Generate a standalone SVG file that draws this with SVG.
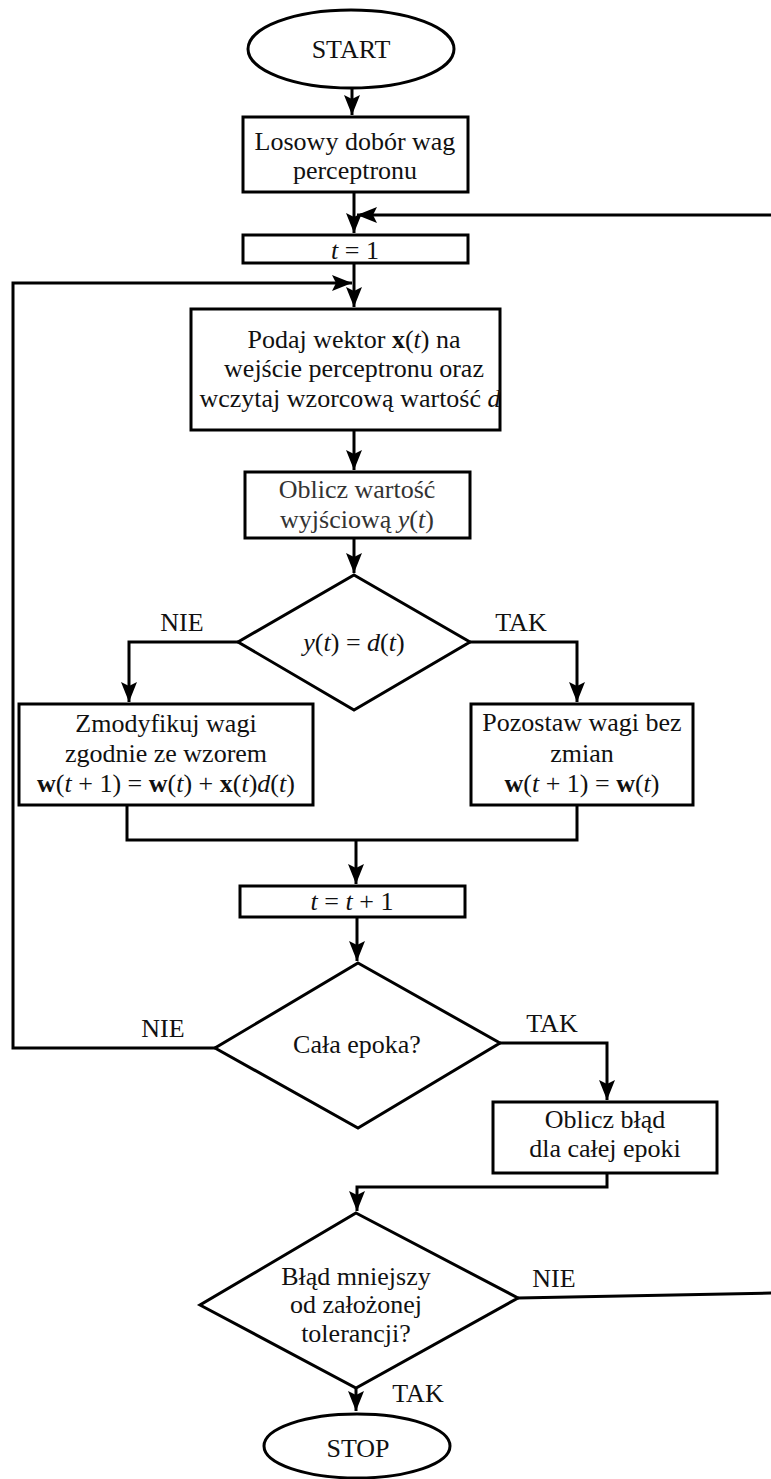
<svg xmlns="http://www.w3.org/2000/svg" width="771" height="1479" viewBox="0 0 771 1479">
<style>
.n{fill:#fff;stroke:#000;stroke-width:3}
.c{fill:none;stroke:#000;stroke-width:3}
text{font-family:"Liberation Serif","Times New Roman",serif;font-size:26px;fill:#111;text-anchor:middle}
.g{fill:#333}
.i{font-style:italic}
.b{font-weight:bold}
</style>
<defs>
<marker id="ah" markerUnits="userSpaceOnUse" markerWidth="22" markerHeight="18" refX="20" refY="8" orient="auto">
<path d="M0,0 L20,8 L0,16 L4,8 z" fill="#000"/>
</marker>
</defs>
<rect width="771" height="1479" fill="#fff"/>
<g id="connectors">
<path class="c" d="M352,88 V115" marker-end="url(#ah)"/>
<path class="c" d="M354,192 V233" marker-end="url(#ah)"/>
<path class="c" d="M771,215 H357" marker-end="url(#ah)"/>
<path class="c" d="M354,263 V307" marker-end="url(#ah)"/>
<path class="c" d="M215,1048 H13 V283 H352" marker-end="url(#ah)"/>
<path class="c" d="M354,430 V470" marker-end="url(#ah)"/>
<path class="c" d="M354,538 V573" marker-end="url(#ah)"/>
<path class="c" d="M238,642 H129 V702" marker-end="url(#ah)"/>
<path class="c" d="M470,642 H577 V702" marker-end="url(#ah)"/>
<path class="c" d="M127,805 V840 H577 V805"/>
<path class="c" d="M356,840 V884" marker-end="url(#ah)"/>
<path class="c" d="M357,917 V961" marker-end="url(#ah)"/>
<path class="c" d="M500,1043 H607 V1100" marker-end="url(#ah)"/>
<path class="c" d="M607,1173 V1187 H357 V1211" marker-end="url(#ah)"/>
<path class="c" d="M518,1298 L771,1293"/>
<path class="c" d="M356,1388 V1411" marker-end="url(#ah)"/>
<text x="182" y="631">NIE</text>
<text x="521" y="631">TAK</text>
<text x="163" y="1037">NIE</text>
<text x="552" y="1032">TAK</text>
<text x="554" y="1287">NIE</text>
<text x="418" y="1402">TAK</text>
</g>
<g id="start">
<ellipse class="n" cx="351" cy="49" rx="103" ry="39"/>
<text x="351" y="58">START</text>
</g>
<g id="init">
<rect class="n" x="243" y="117" width="225" height="75"/>
<text x="355" y="150">Losowy dobór wag</text>
<text x="355" y="179">perceptronu</text>
</g>
<g id="t1">
<rect class="n" x="243" y="235" width="225" height="28"/>
<text x="355" y="259"><tspan class="i">t</tspan> = 1</text>
</g>
<g id="input">
<rect class="n" x="191" y="309" width="309" height="121"/>
<text x="354" y="348">Podaj wektor <tspan class="b">x</tspan>(<tspan class="i">t</tspan>) na</text>
<text x="354" y="377">wejście perceptronu oraz</text>
<text x="350" y="407">wczytaj wzorcową wartość <tspan class="i">d</tspan></text>
</g>
<g id="output">
<rect class="n" x="245" y="472" width="225" height="66"/>
<text class="g" x="357" y="498">Oblicz wartość</text>
<text class="g" x="357" y="528">wyjściową <tspan class="i">y</tspan>(<tspan class="i">t</tspan>)</text>
</g>
<g id="cond1">
<polygon class="n" points="354,575 470,642 354,710 238,642"/>
<text x="354" y="651"><tspan class="i">y</tspan>(<tspan class="i">t</tspan>) = <tspan class="i">d</tspan>(<tspan class="i">t</tspan>)</text>
</g>
<g id="modify">
<rect class="n" x="19" y="704" width="294" height="101"/>
<text x="166" y="732">Zmodyfikuj wagi</text>
<text x="166" y="762">zgodnie ze wzorem</text>
<text x="166" y="792"><tspan class="b">w</tspan>(<tspan class="i">t</tspan> + 1) = <tspan class="b">w</tspan>(<tspan class="i">t</tspan>) + <tspan class="b">x</tspan>(<tspan class="i">t</tspan>)<tspan class="i">d</tspan>(<tspan class="i">t</tspan>)</text>
</g>
<g id="keep">
<rect class="n" x="471" y="704" width="222" height="101"/>
<text x="582" y="731">Pozostaw wagi bez</text>
<text x="582" y="762">zmian</text>
<text x="582" y="792"><tspan class="b">w</tspan>(<tspan class="i">t</tspan> + 1) = <tspan class="b">w</tspan>(<tspan class="i">t</tspan>)</text>
</g>
<g id="inc">
<rect class="n" x="240" y="886" width="225" height="31"/>
<text x="352" y="910"><tspan class="i">t</tspan> = <tspan class="i">t</tspan> + 1</text>
</g>
<g id="cond2">
<polygon class="n" points="358,963 500,1043 358,1128 215,1048"/>
<text x="357" y="1053">Cała epoka?</text>
</g>
<g id="error">
<rect class="n" x="493" y="1102" width="224" height="71"/>
<text x="605" y="1128">Oblicz błąd</text>
<text x="605" y="1157">dla całej epoki</text>
</g>
<g id="cond3">
<polygon class="n" points="356,1213 518,1298 356,1388 200,1305"/>
<text x="356" y="1285">Błąd mniejszy</text>
<text x="356" y="1313">od założonej</text>
<text x="356" y="1342">tolerancji?</text>
</g>
<g id="stop">
<ellipse class="n" cx="357" cy="1446" rx="93" ry="32"/>
<text x="358" y="1457">STOP</text>
</g>
</svg>
